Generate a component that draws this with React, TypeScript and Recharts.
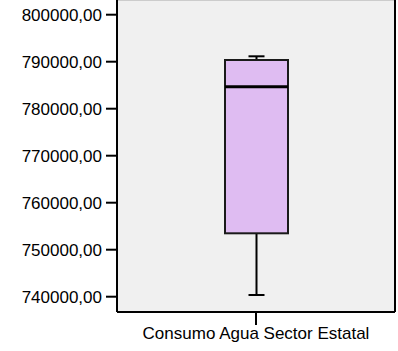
import React from "react";
import {
  ComposedChart,
  Bar,
  XAxis,
  YAxis,
  CartesianGrid,
  ReferenceLine,
} from "recharts";

const categories = ["Consumo Agua Sector Estatal"];
const minValues = [740360];
const q1Values = [753490];
const medianValues = [784680];
const q3Values = [790362];
const maxValues = [791149];
const yTicks = [740000, 750000, 760000, 770000, 780000, 790000, 800000];
const yDomain = [736745, 803128];

const data = categories.map((name, i) => ({
  name,
  range: [minValues[i], maxValues[i]],
  min: minValues[i],
  q1: q1Values[i],
  median: medianValues[i],
  q3: q3Values[i],
  max: maxValues[i],
}));

const fmt = (v: number) => v.toFixed(2).replace(".", ",");

// the bar spans min..max, inner parts are placed on the same linear scale
function BoxShape(props: any) {
  const { x, y, width, height, payload } = props;
  const { min, max, q1, median, q3 } = payload;
  const pix = (v: number) => y + (height * (max - v)) / (max - min);
  const cx = x + width / 2;
  const cap = 8;
  return (
    <g>
      <line x1={cx} x2={cx} y1={pix(max)} y2={pix(q3)} stroke="#000" strokeWidth={2} />
      <line x1={cx} x2={cx} y1={pix(q1)} y2={pix(min)} stroke="#000" strokeWidth={2} />
      <line x1={cx - cap} x2={cx + cap} y1={pix(max)} y2={pix(max)} stroke="#000" strokeWidth={2} />
      <line x1={cx - cap} x2={cx + cap} y1={pix(min)} y2={pix(min)} stroke="#000" strokeWidth={2} />
      <rect
        x={x}
        y={pix(q3)}
        width={width}
        height={pix(q1) - pix(q3)}
        fill="#dfbcf2"
        stroke="#1a1a1a"
        strokeWidth={2}
      />
      <line x1={x} x2={x + width} y1={pix(median)} y2={pix(median)} stroke="#000" strokeWidth={3} />
    </g>
  );
}

export default function App() {
  return (
    <div style={{ position: "absolute", left: 0, top: 0 }}>
      <ComposedChart
        width={398}
        height={351}
        data={data}
        margin={{ top: 0, right: 0, bottom: 0, left: 0 }}
        style={{ fontFamily: "'Liberation Sans', Arial, sans-serif" }}
      >
        <CartesianGrid fill="#f0f0f0" horizontal={false} vertical={false} />
        <XAxis
          dataKey="name"
          height={39}
          tickSize={13}
          tickMargin={2}
          axisLine={{ stroke: "#000", strokeWidth: 2 }}
          tickLine={{ stroke: "#000", strokeWidth: 2 }}
          tick={{ fill: "#000", fontSize: 17 }}
        />
        <YAxis
          yAxisId="l"
          width={117}
          domain={yDomain}
          ticks={yTicks}
          allowDataOverflow
          tickFormatter={fmt}
          tickSize={11}
          tickMargin={4}
          axisLine={{ stroke: "#000", strokeWidth: 2 }}
          tickLine={{ stroke: "#000", strokeWidth: 2 }}
          tick={{ fill: "#000", fontSize: 17 }}
        />
        <YAxis
          yAxisId="r"
          orientation="right"
          width={3}
          domain={yDomain}
          tick={false}
          tickLine={false}
          axisLine={{ stroke: "#000", strokeWidth: 2 }}
        />
        <ReferenceLine yAxisId="l" y={yDomain[1]} stroke="#cccccc" strokeWidth={2} />
        <Bar
          yAxisId="l"
          dataKey="range"
          barSize={63}
          shape={BoxShape}
          isAnimationActive={false}
        />
      </ComposedChart>
    </div>
  );
}
